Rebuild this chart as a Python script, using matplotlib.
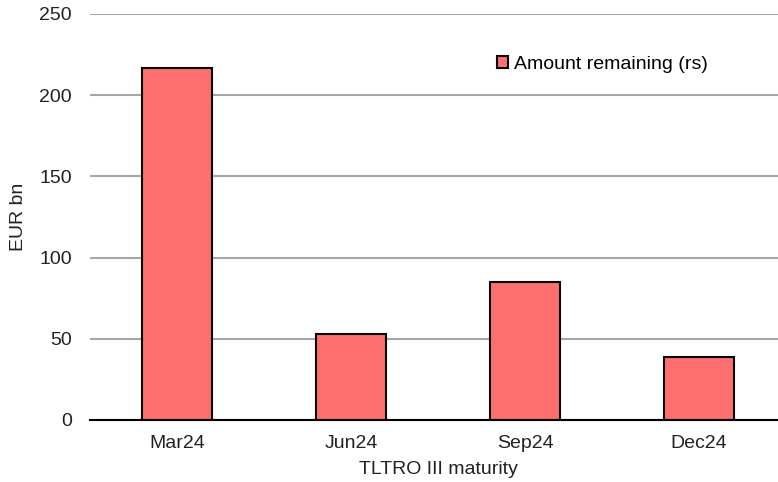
import matplotlib
matplotlib.use("Agg")
import matplotlib.pyplot as plt

categories = ["Mar24", "Jun24", "Sep24", "Dec24"]
amount_remaining = [216.5, 53, 85, 38.5]
y_ticks = [0, 50, 100, 150, 200, 250]

plt.rcParams['font.family'] = ['Liberation Sans', 'DejaVu Sans']

fig = plt.figure(figsize=(7.78, 4.82), dpi=100)
ax = fig.add_axes([90/778, 1-420/482, 696/778, 406/482])

x = range(len(categories))
ax.bar(x, amount_remaining, width=0.405, color="#FF6F6F", edgecolor="black",
       linewidth=1.5, label="Amount remaining (rs)", zorder=3)

ax.set_xlim(-0.5, len(categories) - 0.5)
ax.set_ylim(0, 250)
ax.set_yticks(y_ticks)
ax.set_xticks(list(x))
ax.set_xticklabels(categories)
ax.grid(axis='y', color="#A6A6A6", linewidth=1.5, zorder=0)
ax.set_axisbelow(True)
for s in ["top", "right", "left"]:
    ax.spines[s].set_visible(False)
ax.spines["bottom"].set_color("black")
ax.spines["bottom"].set_linewidth(1.5)
ax.spines["bottom"].set_zorder(4)
ax.tick_params(axis='both', length=0, labelsize=14, colors="#222222")
ax.tick_params(axis='x', pad=11)
ax.tick_params(axis='y', pad=13)

ax.set_ylabel("EUR bn", fontsize=14, color="#222222")
ax.yaxis.set_label_coords(-63/696, 0.5)
ax.set_xlabel("TLTRO III maturity", fontsize=14, labelpad=6, color="#222222")

leg = ax.legend(loc="upper right", bbox_to_anchor=(0.913, 0.94), frameon=False,
                fontsize=14, handlelength=0.6, handleheight=0.6, handletextpad=0.3)

fig.savefig("out.png", dpi=100)
